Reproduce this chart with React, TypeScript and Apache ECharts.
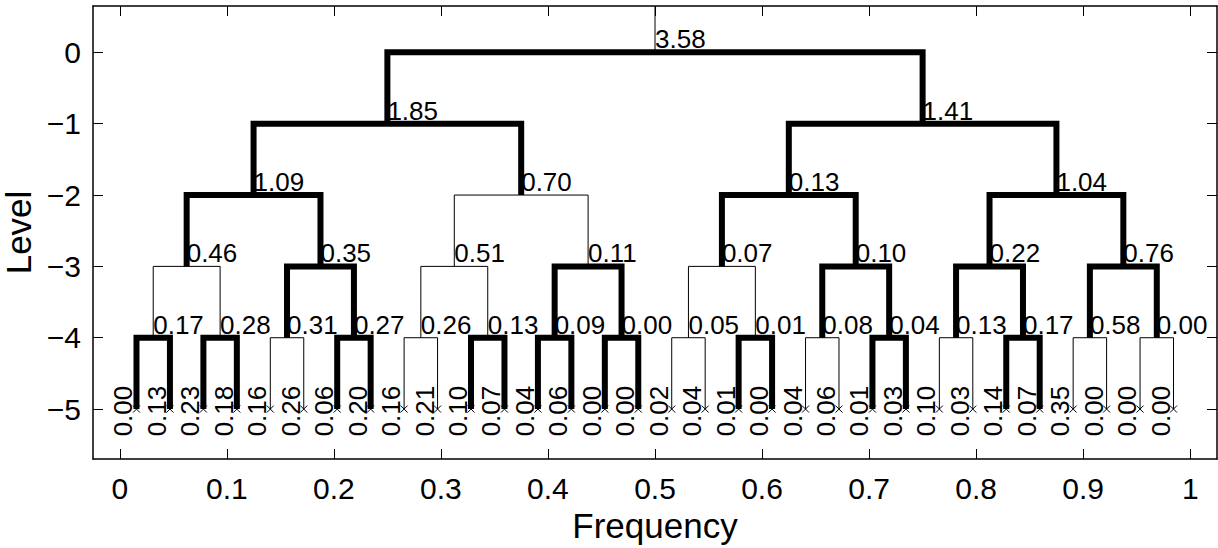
import React, { useEffect, useRef } from "react";
import * as echarts from "echarts";

// Node values of the wavelet-packet tree, level by level
const level0Values = [3.58];
const level1Values = [1.85, 1.41];
const level2Values = [1.09, 0.7, 0.13, 1.04];
const level3Values = [0.46, 0.35, 0.51, 0.11, 0.07, 0.1, 0.22, 0.76];
const level4Values = [
  0.17, 0.28, 0.31, 0.27, 0.26, 0.13, 0.09, 0.0, 0.05, 0.01, 0.08, 0.04, 0.13, 0.17, 0.58, 0.0,
];
const level5Values = [
  0.0, 0.13, 0.23, 0.18, 0.16, 0.26, 0.06, 0.2, 0.16, 0.21, 0.1, 0.07, 0.04, 0.06, 0.0, 0.0,
  0.02, 0.04, 0.01, 0.0, 0.04, 0.06, 0.01, 0.03, 0.1, 0.03, 0.14, 0.07, 0.35, 0.0, 0.0, 0.0,
];

// 1 = split drawn bold (kept), 0 = thin split
const level0Bold = [1];
const level1Bold = [1, 1];
const level2Bold = [1, 0, 1, 1];
const level3Bold = [0, 1, 0, 1, 0, 1, 1, 1];
const level4Bold = [1, 1, 0, 1, 0, 1, 1, 1, 0, 1, 0, 1, 0, 1, 0, 0];

const xTicks = [0, 0.1, 0.2, 0.3, 0.4, 0.5, 0.6, 0.7, 0.8, 0.9, 1];
const yTicks = [-5, -4, -3, -2, -1, 0];

const levelValues = [level0Values, level1Values, level2Values, level3Values, level4Values, level5Values];
const levelBold = [level0Bold, level1Bold, level2Bold, level3Bold, level4Bold];

const FONT = '"Liberation Sans", Arial, Helvetica, sans-serif';

function buildNodes() {
  const out: number[][] = [];
  levelValues.forEach((vals, d) => {
    const n = Math.pow(2, d);
    vals.forEach((v, k) => {
      const x = (k + 0.5) / n;
      const bold = d < levelBold.length ? levelBold[d][k] : -1;
      const xl = (2 * k + 0.5) / (2 * n);
      const xr = (2 * k + 1.5) / (2 * n);
      out.push([x, -d, v, bold, xl, xr]);
    });
  });
  return out;
}

export default function App() {
  const ref = useRef<HTMLDivElement>(null);
  useEffect(() => {
    if (!ref.current) return;
    const chart = echarts.init(ref.current, null, { renderer: "svg" });
    const nodes = buildNodes();
    const xMin = -0.025, xMax = 1.025, yMin = -5.7, yMax = 0.65;

    const renderItem = (params: any, api: any) => {
      const x = api.value(0), y = api.value(1), v = api.value(2), b = api.value(3);
      const xl = api.value(4), xr = api.value(5);
      const p = api.coord([x, y]);
      const children: any[] = [];
      if (b >= 0) {
        const a1 = api.coord([xl, y - 1]);
        const a2 = api.coord([xl, y]);
        const a3 = api.coord([xr, y]);
        const a4 = api.coord([xr, y - 1]);
        children.push({
          type: "polyline",
          z2: b ? 20 : 10,
          shape: { points: [a1, a2, a3, a4] },
          style: { stroke: "#000", lineWidth: b ? 6 : 1, fill: null, lineJoin: "miter", lineCap: "butt" },
        });
        children.push({
          type: "text",
          x: p[0],
          y: p[1],
          z2: 1,
          style: {
            text: v.toFixed(2),
            fill: "#000",
            fontSize: 26,
            fontFamily: FONT,
            align: "left",
            verticalAlign: "bottom",
          },
        });
        if (y === 0) {
          const top = api.coord([x, yMax]);
          children.push({
            type: "line",
            z2: 10,
            shape: { x1: p[0], y1: p[1], x2: top[0], y2: top[1] },
            style: { stroke: "#000", lineWidth: 1 },
          });
        }
      } else {
        const s = 3.5;
        children.push({
          type: "line",
          z2: 5,
          shape: { x1: p[0] - s, y1: p[1] - s, x2: p[0] + s, y2: p[1] + s },
          style: { stroke: "#000", lineWidth: 1 },
        });
        children.push({
          type: "line",
          z2: 5,
          shape: { x1: p[0] - s, y1: p[1] + s, x2: p[0] + s, y2: p[1] - s },
          style: { stroke: "#000", lineWidth: 1 },
        });
        children.push({
          type: "text",
          x: p[0],
          y: p[1] + 2,
          rotation: Math.PI / 2,
          z2: 1,
          style: {
            text: v.toFixed(2),
            fill: "#000",
            fontSize: 26,
            fontFamily: FONT,
            align: "center",
            verticalAlign: "bottom",
          },
        });
      }
      return { type: "group", children };
    };

    const axisLine = { show: true, onZero: false, lineStyle: { color: "#000", width: 1.5 } };
    const tickStyle = { color: "#000", width: 1 };

    chart.setOption({
      animation: false,
      backgroundColor: "#fff",
      grid: { left: 93, right: 1, top: 6, bottom: 89, containLabel: false, outerBoundsMode: "none" },
      xAxis: [
        {
          type: "value",
          min: xMin,
          max: xMax,
          position: "bottom",
          axisLine,
          axisTick: { show: true, inside: true, length: 10, customValues: xTicks, lineStyle: tickStyle },
          axisLabel: {
            show: true,
            customValues: xTicks,
            margin: 14,
            color: "#000",
            fontSize: 30,
            fontFamily: FONT,
            formatter: (v: number) => String(Math.round(v * 10) / 10),
          },
          splitLine: { show: false },
          name: "Frequency",
          nameLocation: "middle",
          nameGap: 46,
          nameTextStyle: { color: "#000", fontSize: 35, fontFamily: FONT },
        },
        {
          type: "value",
          min: xMin,
          max: xMax,
          position: "top",
          axisLine,
          axisTick: { show: true, inside: true, length: 10, customValues: xTicks, lineStyle: tickStyle },
          axisLabel: { show: false },
          splitLine: { show: false },
        },
      ],
      yAxis: [
        {
          type: "value",
          min: yMin,
          max: yMax,
          position: "left",
          axisLine,
          axisTick: { show: true, inside: true, length: 10, customValues: yTicks, lineStyle: tickStyle },
          axisLabel: {
            show: true,
            customValues: yTicks,
            margin: 12,
            color: "#000",
            fontSize: 30,
            fontFamily: FONT,
            formatter: (v: number) => (v < 0 ? "\u2212" + String(-v) : String(v)),
          },
          splitLine: { show: false },
          name: "Level",
          nameLocation: "middle",
          nameGap: 51,
          nameTextStyle: { color: "#000", fontSize: 35, fontFamily: FONT },
        },
        {
          type: "value",
          min: yMin,
          max: yMax,
          position: "right",
          axisLine,
          axisTick: { show: true, inside: true, length: 10, customValues: yTicks, lineStyle: tickStyle },
          axisLabel: { show: false },
          splitLine: { show: false },
        },
      ],
      series: [
        {
          type: "custom",
          xAxisIndex: 0,
          yAxisIndex: 0,
          clip: false,
          renderItem,
          data: nodes,
          encode: { x: 0, y: 1 },
        },
      ],
    });
    return () => chart.dispose();
  }, []);

  return (
    <div
      ref={ref}
      style={{ position: "fixed", left: 0, top: 0, width: 1218, height: 548, background: "#fff" }}
    />
  );
}
